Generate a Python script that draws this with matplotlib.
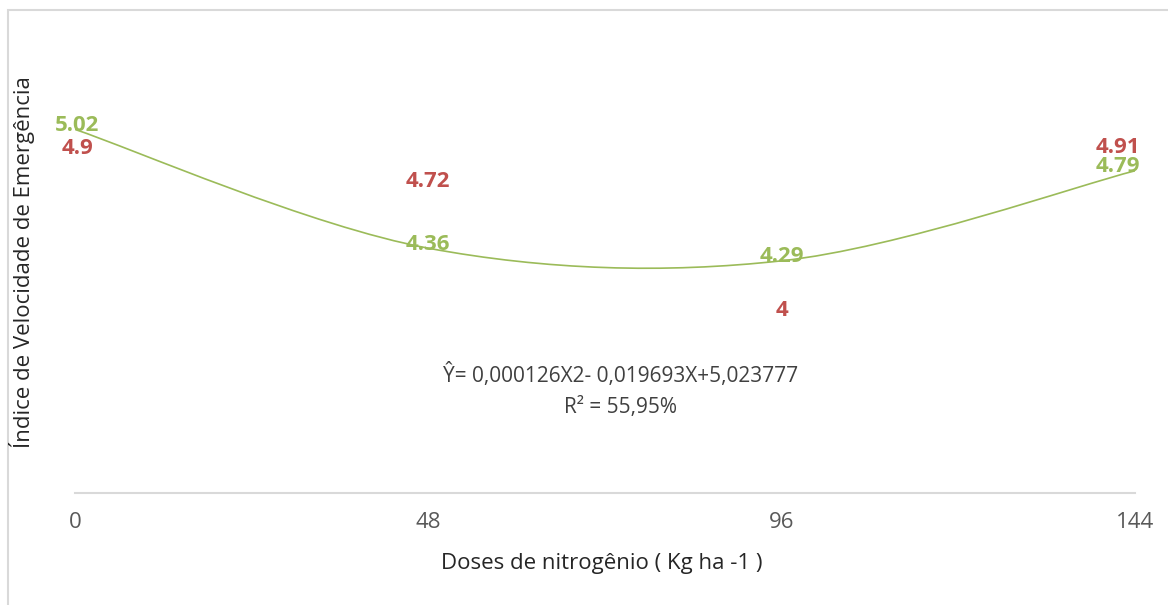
import numpy as np
import matplotlib
matplotlib.use("Agg")
import matplotlib.pyplot as plt
from matplotlib.path import Path
from matplotlib.patches import PathPatch, Rectangle

# ================================
# DATA
# ================================
doses = [0, 48, 96, 144]
tick_labels = ["0", "48", "96", "144"]
ajustado = [5.02, 4.36, 4.29, 4.79]      # green series (fitted)
observado = [4.9, 4.72, 4.0, 4.91]       # red labels (observed)
obs_text = ["4.9", "4.72", "4", "4.91"]

equacao = "Ŷ= 0,000126X2- 0,019693X+5,023777"
r2_text = "R² = 55,95%"

GREEN = "#9BBB59"
RED = "#C0504D"
GRAY = "#595959"

plt.rcParams['font.family'] = ['Open Sans', 'DejaVu Sans']

W, H = 1168, 605
fig = plt.figure(figsize=(W / 100, H / 100), dpi=100)
ax = fig.add_axes([75 / W, 1 - 493 / H, 1060 / W, (493 - 25) / H])

# outer chart border (left + top visible)
fig.add_artist(Rectangle((8 / W, -0.05), 1.2, (H - 10) / H + 0.05,
                         transform=fig.transFigure, fill=False,
                         edgecolor="#d9d9d9", lw=1.5, clip_on=False))

# ================================
# SMOOTH LINE (Excel-like bezier through the points)
# ================================
x = np.array(doses, dtype=float)
y = np.array(ajustado, dtype=float)
px = np.concatenate([[x[0]], x, [x[-1]]])
py = np.concatenate([[y[0]], y, [y[-1]]])
verts = [(x[0], y[0])]
codes = [Path.MOVETO]
for i in range(len(x) - 1):
    c1 = (px[i + 1] + (px[i + 2] - px[i]) / 6, py[i + 1] + (py[i + 2] - py[i]) / 6)
    c2 = (px[i + 2] - (px[i + 3] - px[i + 1]) / 6, py[i + 2] - (py[i + 3] - py[i + 1]) / 6)
    verts += [c1, c2, (x[i + 1], y[i + 1])]
    codes += [Path.CURVE4] * 3
ax.add_patch(PathPatch(Path(verts, codes), fill=False, edgecolor=GREEN, lw=1.2))

# ================================
# LABELS
# ================================
shift = [2, 0, 0, -17]
for i in range(len(doses)):
    ax.annotate(f"{ajustado[i]:.2f}", (doses[i], ajustado[i]), xytext=(shift[i], 4),
                textcoords="offset pixels", ha="center", va="center",
                color=GREEN, fontsize=16, fontweight="bold")
    ax.annotate(obs_text[i], (doses[i], observado[i]), xytext=(shift[i], 2),
                textcoords="offset pixels", ha="center", va="center",
                color=RED, fontsize=16, fontweight="bold")

ax.set_xlim(0, 144)
ax.set_ylim(3.0, 5.6)
ax.set_xticks(doses)
ax.set_xticklabels(tick_labels)
ax.set_yticks([])
ax.tick_params(axis="x", length=0, pad=14, colors=GRAY, labelsize=16)
for s in ["top", "right", "left"]:
    ax.spines[s].set_visible(False)
ax.spines["bottom"].set_color("#d9d9d9")
ax.spines["bottom"].set_linewidth(1.5)

fig.text(621 / W, 1 - 375 / H, equacao, ha="center", va="center", fontsize=15, color="#404040")
fig.text(621 / W, 1 - 408 / H, r2_text, ha="center", va="center", fontsize=15, color="#404040")

fig.text(602 / W, 1 - 563 / H, "Doses de nitrogênio ( Kg ha -1 )", ha="center", va="center",
         fontsize=16, color="#262626")
fig.text(22 / W, 1 - 262 / H, "Índice de Velocidade de Emergência", ha="center", va="center",
         rotation=90, fontsize=16, color="#262626")

fig.savefig("out.png", dpi=100)
